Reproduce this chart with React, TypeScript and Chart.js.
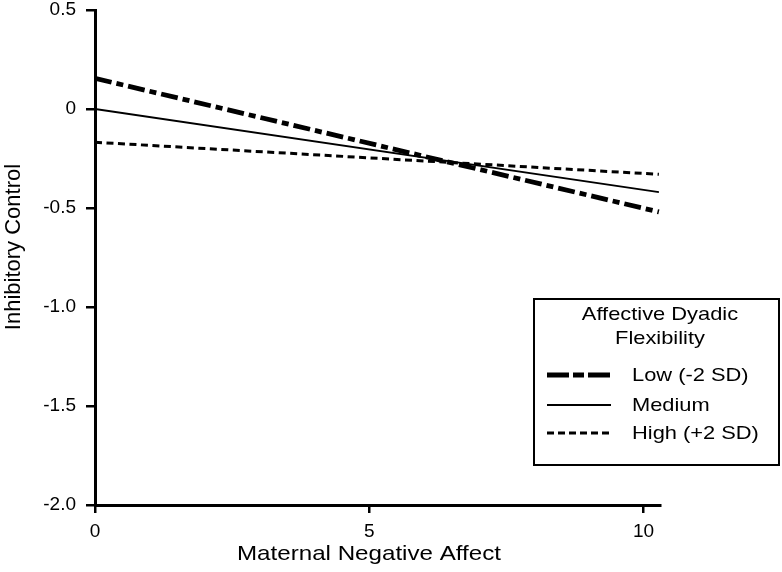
import React, { useEffect, useRef } from "react";
import { Chart, registerables } from "chart.js";

Chart.register(...registerables);

const xValues = [0, 10.28];
const lowValues = [0.155, -0.52];
const mediumValues = [0, -0.42];
const highValues = [-0.168, -0.33];
const seriesLabels = ["Low (-2 SD)", "Medium", "High (+2 SD)"];
const legendTitle = ["Affective Dyadic", "Flexibility"];
const xTitle = "Maternal Negative Affect";
const yTitle = "Inhibitory Control";
const xTicks = [0, 5, 10];
const yTicks = [0.5, 0, -0.5, -1.0, -1.5, -2.0];

const FONT = "'Liberation Sans', Arial, sans-serif";
const SX = 1.15;

function stretchedText(ctx: any, text: string, x: number, y: number, align: string) {
  ctx.save();
  ctx.translate(x, y);
  ctx.scale(SX, 1);
  ctx.textAlign = align;
  ctx.fillText(text, 0, 0);
  ctx.restore();
}

const legendDashes: number[][] = [[22, 4, 11, 4], [], [7, 4]];

const textPlugin = {
  id: "customText",
  afterDraw(chart: any) {
    const ctx = chart.ctx;
    ctx.save();
    ctx.fillStyle = "#000";
    ctx.textBaseline = "middle";
    // axis titles
    ctx.font = `21px ${FONT}`;
    stretchedText(ctx, xTitle, 369, 554, "center");
    ctx.save();
    ctx.translate(14, 247);
    ctx.rotate(-Math.PI / 2);
    ctx.font = `22px ${FONT}`;
    ctx.textAlign = "center";
    ctx.fillText(yTitle, 0, 0);
    ctx.restore();

    // legend
    const left = 534, top = 299, right = 779, bottom = 465;
    ctx.fillStyle = "#fff";
    ctx.fillRect(left, top, right - left, bottom - top);
    ctx.lineWidth = 2;
    ctx.strokeStyle = "#000";
    ctx.setLineDash([]);
    ctx.strokeRect(left, top, right - left, bottom - top);
    ctx.fillStyle = "#000";
    ctx.font = `19px ${FONT}`;
    stretchedText(ctx, legendTitle[0], 660, 315, "center");
    stretchedText(ctx, legendTitle[1], 660, 339, "center");
    const rows = [375, 405, 433];
    chart.data.datasets.forEach((ds: any, i: number) => {
      const y = rows[i];
      ctx.beginPath();
      ctx.lineWidth = ds.borderWidth;
      ctx.setLineDash(legendDashes[i]);
      ctx.strokeStyle = ds.borderColor;
      ctx.moveTo(547, y);
      ctx.lineTo(611, y);
      ctx.stroke();
      ctx.setLineDash([]);
      stretchedText(ctx, ds.label, 632, y + 1, "left");
    });
    ctx.restore();
  },
};

export default function App() {
  const ref = useRef<HTMLCanvasElement | null>(null);
  useEffect(() => {
    document.body.style.margin = "0";
    const mk = (vals: number[]) => xValues.map((x, i) => ({ x, y: vals[i] }));
    const chart = new Chart(ref.current!, {
      type: "line",
      data: {
        datasets: [
          {
            label: seriesLabels[0],
            data: mk(lowValues),
            borderColor: "#000",
            borderWidth: 4.8,
            borderDash: [17, 5, 7, 5],
            pointRadius: 0,
          },
          {
            label: seriesLabels[1],
            data: mk(mediumValues),
            borderColor: "#000",
            borderWidth: 1.8,
            borderDash: [],
            pointRadius: 0,
          },
          {
            label: seriesLabels[2],
            data: mk(highValues),
            borderColor: "#000",
            borderWidth: 3,
            borderDash: [7, 4.5],
            pointRadius: 0,
          },
        ],
      },
      options: {
        animation: false,
        responsive: false,
        layout: { padding: { top: 10, right: 122, left: 0, bottom: 0 } },
        plugins: { legend: { display: false }, tooltip: { enabled: false } },
        scales: {
          x: {
            type: "linear",
            min: 0,
            max: 10.3,
            afterBuildTicks: (s: any) => {
              s.ticks = xTicks.map((v) => ({ value: v }));
            },
            afterFit: (s: any) => {
              s.height = 67;
              s.paddingLeft = 0;
              s.paddingRight = 0;
            },
            grid: {
              display: true,
              drawOnChartArea: false,
              drawTicks: true,
              tickLength: 8,
              color: "#000",
              lineWidth: 2.5,
            },
            border: { display: true, color: "#000", width: 3 },
            ticks: {
              color: "#000",
              font: { family: FONT, size: 19 },
              padding: 7,
              maxRotation: 0,
            },
            title: { display: false },
          },
          y: {
            type: "linear",
            min: -2.0,
            max: 0.5,
            afterBuildTicks: (s: any) => {
              s.ticks = yTicks.map((v) => ({ value: v }));
            },
            afterFit: (s: any) => {
              s.width = 95;
              s.paddingTop = 0;
              s.paddingBottom = 0;
            },
            grid: {
              display: true,
              drawOnChartArea: false,
              drawTicks: true,
              tickLength: 9,
              color: "#000",
              lineWidth: 2.5,
            },
            border: { display: true, color: "#000", width: 3 },
            ticks: {
              color: "#000",
              font: { family: FONT, size: 19 },
              padding: 10,
              callback: (v: any) => (v === 0 ? "0" : Number(v).toFixed(1)),
            },
            title: { display: false },
          },
        },
      },
      plugins: [textPlugin],
    });
    return () => chart.destroy();
  }, []);
  return (
    <div style={{ width: 782, height: 572, position: "relative" }}>
      <canvas ref={ref} width={782} height={572} />
    </div>
  );
}
